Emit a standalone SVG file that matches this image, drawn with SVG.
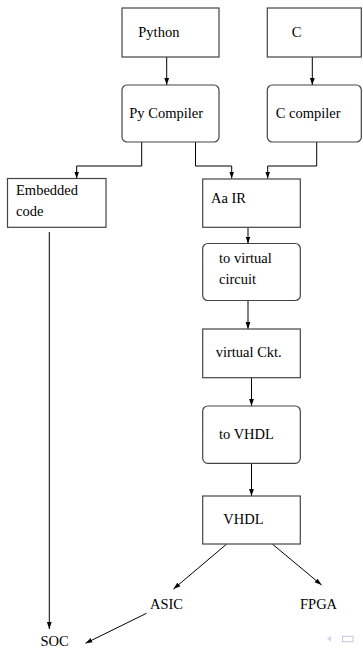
<svg xmlns="http://www.w3.org/2000/svg" width="363" height="654" viewBox="0 0 363 654">
<defs>
<marker id="ah" markerWidth="8" markerHeight="6" refX="7" refY="3" orient="auto" markerUnits="userSpaceOnUse">
<path d="M0,0.6 L7,3 L0,5.4 z" fill="#000"/>
</marker>
<style>
.box{fill:#fff;stroke:#444;stroke-width:1.2}
.t{font-family:"Liberation Serif","Times New Roman",serif;font-size:14.5px;fill:#000}
.c{fill:none;stroke:#000;stroke-width:1}
.ca{fill:none;stroke:#000;stroke-width:1;marker-end:url(#ah)}
</style>
</defs>
<rect width="363" height="654" fill="#fff"/>
<g id="connectors">
<path class="ca" d="M166.7,57 V85"/>
<path class="ca" d="M312.3,57 V85"/>
<path class="ca" d="M141.7,142 V166 H76.7 V178.5"/>
<path class="ca" d="M195.5,142 V166 H231.7 V178.5"/>
<path class="ca" d="M316.7,142 V166 H267.7 V178.5"/>
<path class="ca" d="M248,227 V243.5"/>
<path class="ca" d="M248,300.5 V329"/>
<path class="ca" d="M251.5,377.7 V406"/>
<path class="ca" d="M251.5,463.5 V496"/>
<path class="ca" d="M49.3,232 V629"/>
<path class="ca" d="M226.7,544 L173.5,589"/>
<path class="ca" d="M272.3,544 L321.5,585"/>
<path class="ca" d="M146.5,613.3 L85.5,643.3"/>
</g>
<g id="python"><rect class="box" x="122" y="8" width="97" height="49"/><text class="t" x="138.3" y="36.5">Python</text></g>
<g id="c"><rect class="box" x="267.3" y="8" width="94" height="49"/><text class="t" x="291.7" y="36.5">C</text></g>
<g id="pycompiler"><rect class="box" x="122" y="85" width="97" height="57" rx="5"/><text class="t" x="129.3" y="118.3">Py Compiler</text></g>
<g id="ccompiler"><rect class="box" x="267.3" y="85" width="94" height="57" rx="5"/><text class="t" x="275.7" y="118.3">C compiler</text></g>
<g id="embedded"><rect class="box" x="7.5" y="178.5" width="98.5" height="48.8"/><text class="t" x="16" y="195">Embedded</text><text class="t" x="16" y="215.5">code</text></g>
<g id="aair"><rect class="box" x="202.7" y="179" width="97.6" height="48.3"/><text class="t" x="211" y="202.7">Aa IR</text></g>
<g id="tovirtual"><rect class="box" x="202.7" y="243.5" width="97.6" height="57" rx="5"/><text class="t" x="219" y="263.3">to virtual</text><text class="t" x="219" y="284.3">circuit</text></g>
<g id="virtualckt"><rect class="box" x="202.7" y="329" width="97.6" height="48.7"/><text class="t" x="215.7" y="357.3">virtual Ckt.</text></g>
<g id="tovhdl"><rect class="box" x="202.7" y="406" width="97.6" height="57.3" rx="5"/><text class="t" x="219" y="439">to VHDL</text></g>
<g id="vhdl"><rect class="box" x="202.7" y="496" width="97.6" height="48"/><text class="t" x="223.3" y="524">VHDL</text></g>
<g id="asic"><text class="t" x="150" y="609">ASIC</text></g>
<g id="fpga"><text class="t" x="300" y="609">FPGA</text></g>
<g id="soc"><text class="t" x="40.5" y="646">SOC</text></g>
<g id="nav">
<path d="M331,635.7 L327,638.7 L331,641.7 z" fill="#d4d4ee"/>
<rect x="342.5" y="636.3" width="10.5" height="5.4" fill="none" stroke="#c4c4e6" stroke-width="1"/>
</g>
</svg>
